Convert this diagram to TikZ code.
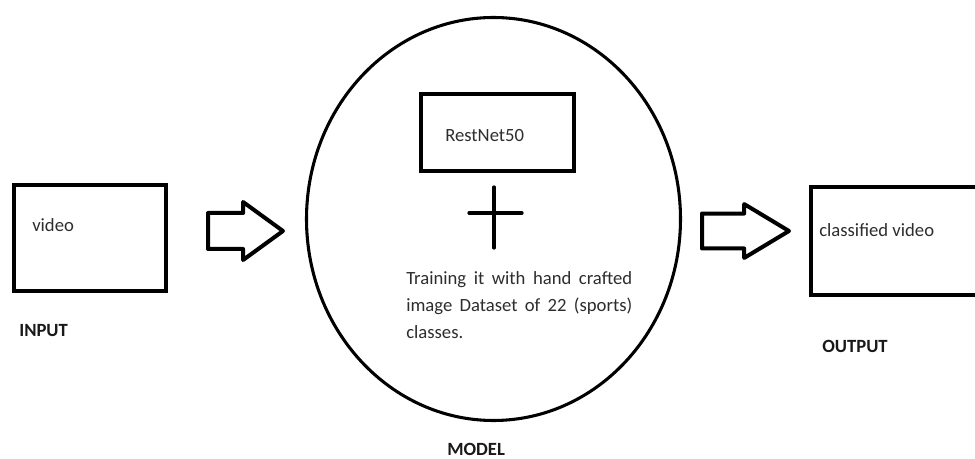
\documentclass[tikz,border=0pt]{standalone}
\usepackage{fontspec}
\setmainfont{Carlito}
\usetikzlibrary{positioning,shapes.geometric,shapes.arrows}
\definecolor{InkGray}{RGB}{45,45,45}
\definecolor{LabelDark}{RGB}{25,25,25}
\tikzset{
    framebox/.style={rectangle, draw=black, line width=3.4pt, inner sep=0pt},
    plaintext/.style={inner sep=0pt, text=InkGray, font=\fontsize{14}{20}\selectfont},
    stagelabel/.style={inner sep=0pt, text=LabelDark, font=\fontsize{14}{17}\selectfont\bfseries},
    blockarrow/.style={single arrow, draw=black, line width=3pt, fill=white, line join=round,
        single arrow head indent=0pt, inner xsep=0pt, anchor=tail}
}
\begin{document}
\begin{tikzpicture}[x=0.75pt, y=-0.75pt,
                plusline/.style={line width=2.4pt, line cap=round}
            ]
                \useasboundingbox (0,0) rectangle (975,459);
                \clip (0,0) rectangle (975,459);
                % input
                \node[framebox, minimum width=114pt, minimum height=79.5pt] (inbox) at (90,238) {};
                \node[plaintext, anchor=base west] (intext) at (32,232) {video};
                \node[stagelabel, anchor=base west] (inlabel) at (19,337) {INPUT};
                % model
                \node[ellipse, draw=black, line width=2.3pt, minimum width=280.5pt, minimum height=302.25pt] (model) at (493.5,219) {};
                \node[framebox, minimum width=114.75pt, minimum height=57.75pt] (netbox) at (497.5,132.5) {};
                \node[plaintext, anchor=base west] (nettext) at (445,142) {RestNet50};
                \draw[plusline] (494,187) -- (494,248);
                \draw[plusline] (469,213) -- (522,213);
                \node[plaintext, anchor=base west, text width=169.5pt, align=justify] (traintext) at (406,285)
                    {Training it with hand crafted image Dataset of 22 (sports) classes.};
                \node[stagelabel, anchor=base west] (modellabel) at (447,456) {MODEL};
                % output
                \node[framebox, minimum width=150pt, minimum height=81pt] (outbox) at (911,241) {};
                \node[plaintext, anchor=base west] (outtext) at (819,237) {classified video};
                \node[stagelabel, anchor=base west] (outlabel) at (822,353) {OUTPUT};
                % block arrows
                \node[blockarrow, minimum height=56.25pt, inner ysep=12pt,
                      single arrow head extend=8.25pt, single arrow tip angle=72] (arrA) at (206,231) {};
                \node[blockarrow, minimum height=65.25pt, inner ysep=11.6pt,
                      single arrow head extend=7.1pt, single arrow tip angle=62] (arrB) at (700,231) {};
            \end{tikzpicture}
\end{document}
